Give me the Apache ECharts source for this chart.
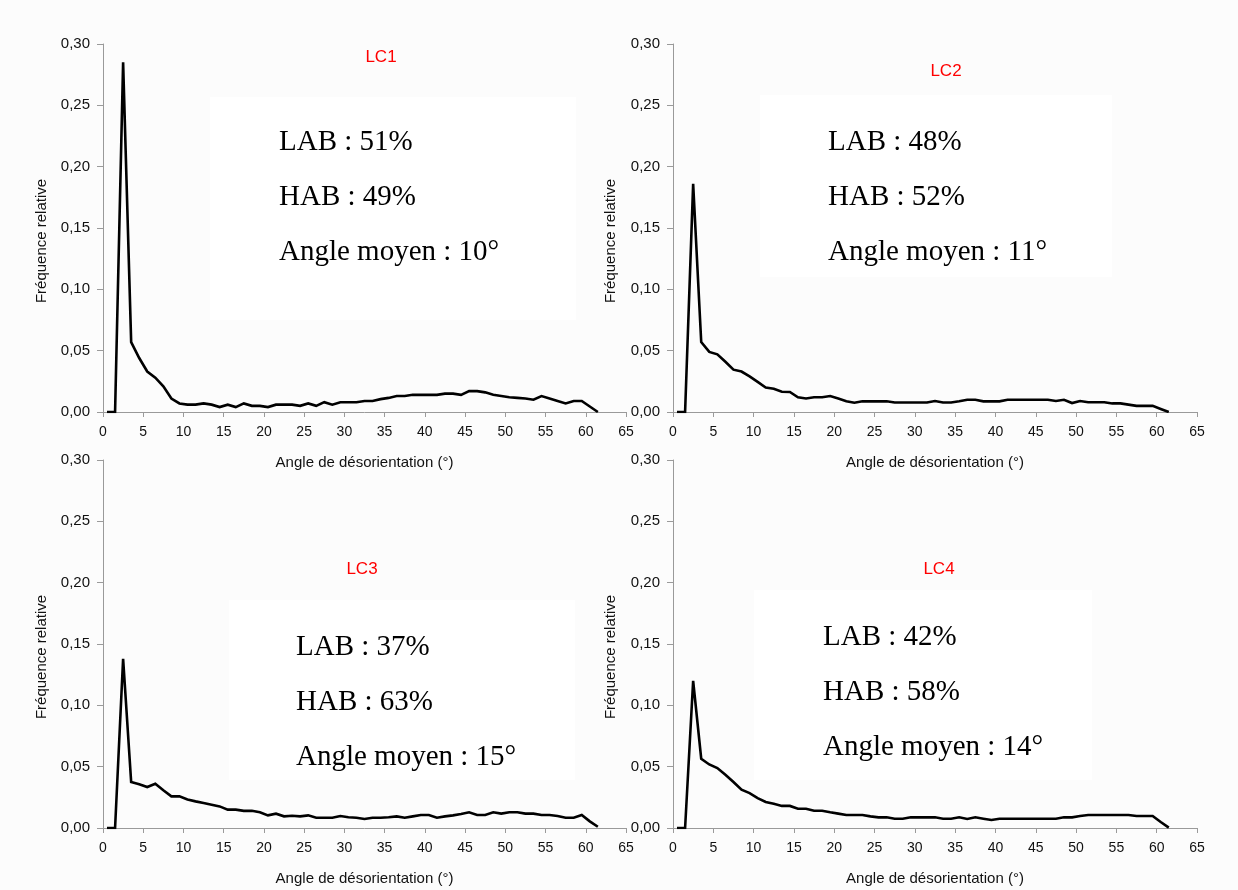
<!DOCTYPE html>
<html>
<head>
<meta charset="utf-8">
<script src="https://cdn.jsdelivr.net/npm/echarts@6/dist/echarts.min.js"></script>
<style>
html,body{margin:0;padding:0;background:#fcfcfc;}
#main{width:1238px;height:890px;}
</style>
</head>
<body>
<div id="main"></div>
<script>
// ---- data ----
const angles = [0.5,1.5,2.5,3.5,4.5,5.5,6.5,7.5,8.5,9.5,10.5,11.5,12.5,13.5,14.5,15.5,16.5,17.5,18.5,19.5,20.5,21.5,22.5,23.5,24.5,25.5,26.5,27.5,28.5,29.5,30.5,31.5,32.5,33.5,34.5,35.5,36.5,37.5,38.5,39.5,40.5,41.5,42.5,43.5,44.5,45.5,46.5,47.5,48.5,49.5,50.5,51.5,52.5,53.5,54.5,55.5,56.5,57.5,58.5,59.5,60.5,61.5];

const lc1 = [0,0,0.285,0.057,0.044,0.033,0.028,0.021,0.011,0.007,0.006,0.006,0.007,0.006,0.004,0.006,0.004,0.007,0.005,0.005,0.004,0.006,0.006,0.006,0.005,0.007,0.005,0.008,0.006,0.008,0.008,0.008,0.009,0.009,0.0105,0.0115,0.013,0.013,0.014,0.014,0.014,0.014,0.015,0.015,0.014,0.017,0.017,0.016,0.014,0.013,0.012,0.0115,0.011,0.010,0.013,0.011,0.009,0.007,0.009,0.009,0.0045,0];

const lc2 = [0,0,0.186,0.057,0.049,0.047,0.041,0.0345,0.033,0.029,0.0245,0.020,0.019,0.0165,0.0163,0.012,0.011,0.012,0.012,0.013,0.011,0.0087,0.0075,0.0087,0.0087,0.0087,0.0087,0.0077,0.0077,0.0077,0.0077,0.0077,0.009,0.0077,0.0077,0.0087,0.010,0.010,0.0087,0.0087,0.0087,0.010,0.010,0.010,0.010,0.010,0.010,0.009,0.010,0.0073,0.009,0.008,0.008,0.008,0.007,0.007,0.006,0.005,0.005,0.005,0.0025,0];

const lc3 = [0,0,0.138,0.0375,0.0356,0.0334,0.036,0.0307,0.0258,0.0258,0.0233,0.0217,0.0204,0.019,0.0176,0.015,0.015,0.014,0.014,0.0128,0.0103,0.0117,0.0095,0.010,0.0095,0.0103,0.0084,0.0084,0.0084,0.0098,0.0087,0.0084,0.0073,0.0084,0.0084,0.0087,0.0095,0.0084,0.0095,0.0106,0.0106,0.0084,0.0095,0.0103,0.0114,0.0128,0.0106,0.0106,0.0128,0.0117,0.0128,0.0128,0.0117,0.0117,0.0106,0.0106,0.0098,0.0084,0.0084,0.0106,0.0054,0.001];

const lc4 = [0,0,0.120,0.0565,0.0518,0.0489,0.0434,0.0375,0.0312,0.0285,0.0244,0.0212,0.0198,0.018,0.018,0.0157,0.0157,0.0141,0.0141,0.0128,0.0117,0.0106,0.0106,0.0106,0.0095,0.0087,0.0087,0.0076,0.0076,0.0087,0.0087,0.0087,0.0087,0.0076,0.0076,0.0087,0.0073,0.0087,0.0076,0.0065,0.0076,0.0076,0.0076,0.0076,0.0076,0.0076,0.0076,0.0076,0.0087,0.0087,0.0098,0.0106,0.0106,0.0106,0.0106,0.0106,0.0106,0.0098,0.0098,0.0098,0.0049,0.0003];

const panelNames = ['LC1','LC2','LC3','LC4'];
const labStats = ['LAB : 51%','LAB : 48%','LAB : 37%','LAB : 42%'];
const habStats = ['HAB : 49%','HAB : 52%','HAB : 63%','HAB : 58%'];
const meanAngles = ['Angle moyen : 10°','Angle moyen : 11°','Angle moyen : 15°','Angle moyen : 14°'];
const xTitle = 'Angle de désorientation (°)';
const yTitle = 'Fréquence relative';
const seriesData = [lc1, lc2, lc3, lc4];

// ---- layout ----
const grids = [
  {left:103, top:44, width:523, height:368},
  {left:673, top:44, width:524, height:368},
  {left:103, top:460, width:523, height:368},
  {left:673, top:460, width:524, height:368}
];
const titlePos = [[381,57],[946,71],[362,569],[939,569]];
const boxes = [[210,97,366,223],[760,95,352,182],[229,600,346,180],[754,590,338,190]];
const statPos = [[279,142],[828,142],[296,647],[823,637]];
const yNamePos = [[42,241],[611,241],[42,657],[611,657]];

const SANS = 'Liberation Sans';
const SERIF = 'Liberation Serif';
const axisGray = '#9a9a9a';

const chart = echarts.init(document.getElementById('main'), null, {renderer:'canvas'});

const xAxes = grids.map((g,i)=>({
  type:'value', gridIndex:i, min:0, max:65, interval:5,
  name: xTitle, nameLocation:'middle', nameGap: 43,
  nameTextStyle:{fontFamily:SANS, fontSize:15, color:'#111', verticalAlign:'top'},
  axisLine:{show:true, onZero:false, lineStyle:{color:axisGray, width:1}},
  axisTick:{show:true, length:5, lineStyle:{color:axisGray}},
  axisLabel:{fontFamily:SANS, fontSize:14, color:'#111', margin:13},
  splitLine:{show:false}
}));
const yAxes = grids.map((g,i)=>({
  type:'value', gridIndex:i, min:0, max:0.30, interval:0.05,
  axisLine:{show:true, lineStyle:{color:axisGray, width:1}},
  axisTick:{show:true, length:6, lineStyle:{color:axisGray}},
  axisLabel:{fontFamily:SANS, fontSize:15, color:'#111', margin:13,
    formatter: v => v.toFixed(2).replace('.', ',')},
  splitLine:{show:false}
}));

const series = seriesData.map((vals,i)=>({
  type:'line', xAxisIndex:i, yAxisIndex:i,
  data: angles.map((a,k)=>[a, vals[k]]),
  showSymbol:false, symbol:'none', z:5,
  lineStyle:{color:'#000', width:2.6, join:'miter'},
  animation:false
}));

const graphic = [];
boxes.forEach((b,i)=>{
  graphic.push({type:'rect', z:1, shape:{x:b[0], y:b[1], width:b[2], height:b[3]}, style:{fill:'#ffffff'}, silent:true});
});
panelNames.forEach((t,i)=>{
  graphic.push({type:'text', z:10, x:titlePos[i][0], y:titlePos[i][1],
    style:{text:t, fontFamily:SANS, fontSize:17, fill:'#ff0000', align:'center', verticalAlign:'middle'}});
  const lines = [labStats[i], habStats[i], meanAngles[i]];
  lines.forEach((s,k)=>{
    graphic.push({type:'text', z:10, x:statPos[i][0], y:statPos[i][1] + k*55,
      style:{text:s, fontFamily:SERIF, fontSize:29, fill:'#000', align:'left', verticalAlign:'middle'}});
  });
  graphic.push({type:'text', z:10, x:yNamePos[i][0], y:yNamePos[i][1], rotation:Math.PI/2,
    style:{text:yTitle, fontFamily:SANS, fontSize:15, fill:'#111', align:'center', verticalAlign:'middle'}});
});

chart.setOption({
  backgroundColor:'#fcfcfc',
  animation:false,
  grid: grids.map(g=>Object.assign({containLabel:false}, g)),
  xAxis: xAxes,
  yAxis: yAxes,
  series: series,
  graphic: graphic
});
</script>
</body>
</html>
